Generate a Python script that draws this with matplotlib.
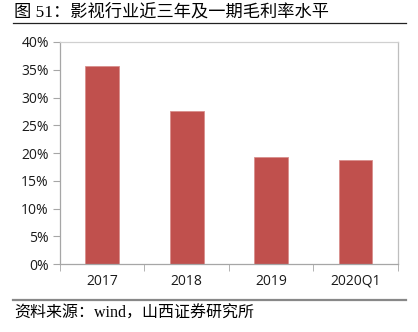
import matplotlib.pyplot as plt
import numpy as np
from matplotlib.ticker import FuncFormatter, FixedLocator

# 影视行业毛利率
periods = ["2017", "2018", "2019", "2020Q1"]
gross_margin = [35.6, 27.6, 19.3, 18.7]
y_ticks = [0, 5, 10, 15, 20, 25, 30, 35, 40]

fig = plt.figure(figsize=(4.18, 3.32), dpi=100)
ax = fig.add_axes([0.1435, 0.2048, 0.8079, 0.6687])

x = np.arange(len(periods))
ax.bar(x, gross_margin, width=0.4, color="#C0504D", edgecolor="#D98F8D", linewidth=0.6)

ax.set_xlim(-0.5, len(periods) - 0.5)
ax.set_ylim(0, 40)
ax.set_yticks(y_ticks)
ax.yaxis.set_major_formatter(FuncFormatter(lambda v, p: f"{v:.0f}%"))
ax.set_xticks(x)
ax.set_xticklabels(periods)
ax.xaxis.set_minor_locator(FixedLocator(np.arange(-0.5, len(periods), 1.0)))

ax.tick_params(axis="x", which="major", length=0, pad=7, labelsize=10)
ax.tick_params(axis="x", which="minor", length=5, color="#A6A6A6", direction="out")
ax.tick_params(axis="y", length=5, color="#A6A6A6", direction="out", labelsize=10, pad=3)
for lab in ax.get_xticklabels() + ax.get_yticklabels():
    lab.set_family(["Open Sans", "DejaVu Sans"])
    lab.set_color("#1A1A1A")

ax.spines["left"].set_color("#A6A6A6")
ax.spines["bottom"].set_color("#A6A6A6")
ax.spines["top"].set_color("#D0D0D0")
ax.spines["right"].set_color("#BEBEBE")
for s in ax.spines.values():
    s.set_linewidth(0.9)

# 标题与来源
fig.text(14 / 418, 1 - 12 / 332, "图 51：影视行业近三年及一期毛利率水平",
         fontsize=12.4, va="center", ha="left",
         family=["Liberation Serif", "Noto Sans CJK SC"])
fig.lines.append(plt.Line2D([13 / 418, 406 / 418], [1 - 23 / 332, 1 - 23 / 332],
                            color="#222222", linewidth=0.9, transform=fig.transFigure))
fig.lines.append(plt.Line2D([13 / 418, 406 / 418], [1 - 300 / 332, 1 - 300 / 332],
                            color="#888888", linewidth=1.6, transform=fig.transFigure))
fig.text(14 / 418, 1 - 314 / 332, "资料来源：wind，山西证券研究所",
         fontsize=11.5, va="center", ha="left",
         family=["Liberation Serif", "Noto Sans CJK SC"])

fig.savefig("out.png", dpi=100)
